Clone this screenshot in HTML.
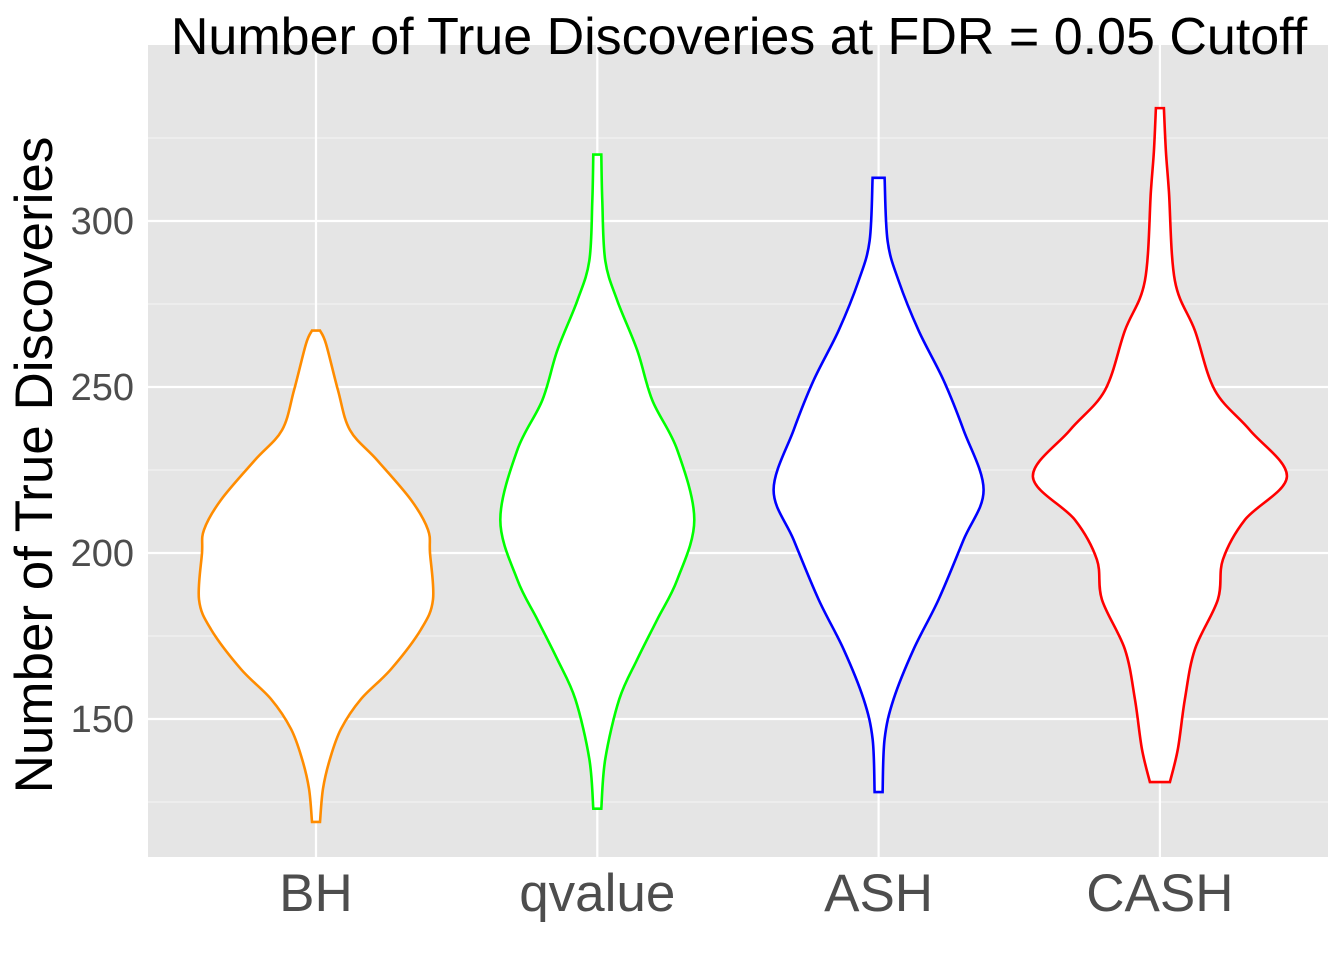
<!DOCTYPE html>
<html><head><meta charset="utf-8"><style>
body{margin:0;background:#fff}
text{font-family:"Liberation Sans",sans-serif}
</style></head><body>
<svg id="chart" width="1344" height="960">
<rect x="148" y="45" width="1180" height="812" fill="#e5e5e5"/>
<g id="grid"></g><g id="violins"></g><g id="axes"></g>
<text x="739" y="54" text-anchor="middle" font-size="52" fill="#000">Number of True Discoveries at FDR = 0.05 Cutoff</text>
<text transform="translate(52,465) rotate(-90)" text-anchor="middle" font-size="53" fill="#000">Number of True Discoveries</text>
</svg>
<script>
const categories=["BH","qvalue","ASH","CASH"];
const colors=["#ff8c00","#00ff00","#0000ff","#ff0000"];
const yTicks=[150,200,250,300];
const yMinor=[125,175,225,275,325];
// [value, half-width] profiles
const bhProfile=[[267,4],[263,10],[249,22],[237,34],[228,61],[216,95],[207,112],[200,114],[186,117],[177,105],[165,75],[156,45],[147,25],[138,14],[129,7],[119,4]];
const qvalueProfile=[[320,4],[306,5],[288,8],[276,20],[261,40],[246,55],[231,80],[210,97],[192,80],[180,60],[168,40],[156,22],[138,8],[123,4]];
const ashProfile=[[313,6],[294,9],[282,20],[267,40],[252,65],[237,85],[219,105],[204,85],[186,60],[171,35],[156,15],[144,6],[128,4]];
const cashProfile=[[334,4],[321,6],[309,9],[282,15],[267,35],[249,55],[237,90],[223,127],[210,85],[198,63],[186,58],[171,35],[156,25],[141,18],[131,10]];
const profiles=[bhProfile,qvalueProfile,ashProfile,cashProfile];
const NS="http://www.w3.org/2000/svg";
const y=v=>221+(300-v)*3.32;
const x=i=>316+i*281.3;
function mk(t,a,p){const e=document.createElementNS(NS,t);for(const k in a)e.setAttribute(k,a[k]);p.appendChild(e);return e;}
const grid=document.getElementById('grid'),axes=document.getElementById('axes'),vg=document.getElementById('violins');
yMinor.forEach(v=>{const l=mk('line',{x1:148,x2:1328,y1:y(v),y2:y(v),stroke:'#f2f2f2','stroke-width':1.2},grid);

});
yTicks.forEach(v=>{const l=mk('line',{x1:148,x2:1328,y1:y(v),y2:y(v),stroke:'#fff','stroke-width':2.2},grid);


const t=mk('text',{x:134,y:y(v)+13,'text-anchor':'end','font-size':38,fill:'#4d4d4d'},axes);t.textContent=v;

});
categories.forEach((c,i)=>{const l=mk('line',{x1:x(i),x2:x(i),y1:45,y2:857,stroke:'#fff','stroke-width':2.2},grid);


const t=mk('text',{x:x(i),y:911,'text-anchor':'middle','font-size':53,fill:'#4d4d4d'},axes);t.textContent=c;

});
function smooth(pts){let d='M'+pts[0][0]+','+pts[0][1];
for(let i=0;i<pts.length-1;i++){const p0=pts[Math.max(i-1,0)],p1=pts[i],p2=pts[i+1],p3=pts[Math.min(i+2,pts.length-1)];
d+=' C'+(p1[0]+(p2[0]-p0[0])/6)+','+(p1[1]+(p2[1]-p0[1])/6)+' '+(p2[0]-(p3[0]-p1[0])/6)+','+(p2[1]-(p3[1]-p1[1])/6)+' '+p2[0]+','+p2[1];}
return d;}
profiles.forEach((pr,i)=>{const cx=x(i);
const right=pr.map(p=>[cx+p[1],y(p[0])]);
const left=pr.slice().reverse().map(p=>[cx-p[1],y(p[0])]);
let d=smooth(right)+' L'+left[0][0]+','+left[0][1]+smooth(left).replace(/^M[^ ]+/,'')+' Z';
const path=mk('path',{d:d,fill:'#fff',stroke:colors[i],'stroke-width':2.6},vg);

});
</script>
</body></html>
